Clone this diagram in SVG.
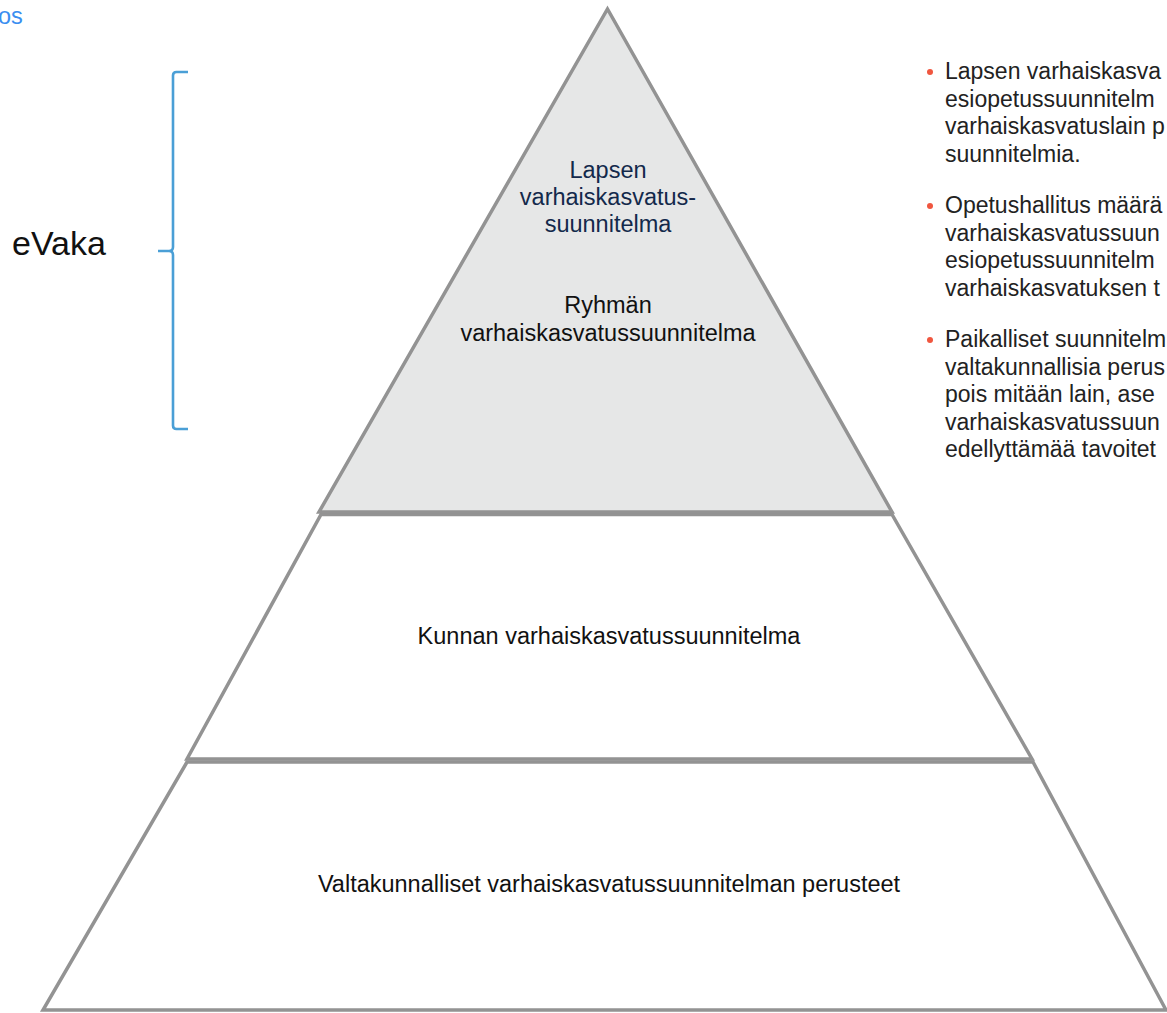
<svg xmlns="http://www.w3.org/2000/svg" width="1167" height="1013" viewBox="0 0 1167 1013">
  <style>
    .layer { stroke: #939393; stroke-width: 3.5; stroke-linejoin: miter; }
    .lbl { font-family: "Liberation Sans", Arial, Helvetica, sans-serif; font-size: 23.5px; fill: #111111; text-anchor: middle; }
    .navy { fill: #13294b; }
    .body { font-family: "Liberation Sans", Arial, Helvetica, sans-serif; font-size: 23px; fill: #222222; }
    .dot { fill: #f0563f; }
  </style>
  <rect width="1167" height="1013" fill="#ffffff"/>

  <!-- cut-off link text at the top-left corner -->
  <text x="-2" y="24" font-family="Liberation Sans, Arial, sans-serif" font-size="23.5" fill="#3a8ef0">os</text>

  <!-- bracket grouping the two upper levels -->
  <g id="evaka">
    <text x="12" y="255" font-family="Liberation Sans, Arial, sans-serif" font-size="34" fill="#111111">eVaka</text>
    <path d="M188,72 L176.5,72 Q173,72 173,75.5 L173,247 Q173,251 169,251 L158,251 M169,251 Q173,251 173,255 L173,425.5 Q173,429 176.5,429 L188,429" fill="none" stroke="#4a9fd6" stroke-width="2.6"/>
  </g>

  <!-- pyramid levels -->
  <g id="level-bottom">
    <polygon class="layer" points="187,762 1033,762 1166,1010 43,1010" fill="#ffffff"/>
    <text class="lbl" x="609" y="892">Valtakunnalliset varhaiskasvatussuunnitelman perusteet</text>
  </g>
  <g id="level-middle">
    <polygon class="layer" points="321,514.5 892,514.5 1032,759 187,759" fill="#ffffff"/>
    <text class="lbl" x="609" y="644">Kunnan varhaiskasvatussuunnitelma</text>
  </g>
  <g id="level-top">
    <polygon class="layer" points="607.5,9 892,512 319,512" fill="#e6e7e7"/>
    <text class="lbl navy" x="608" y="178">Lapsen</text>
    <text class="lbl navy" x="608" y="205">varhaiskasvatus-</text>
    <text class="lbl navy" x="608" y="232">suunnitelma</text>
    <text class="lbl" x="608" y="313">Ryhmän</text>
    <text class="lbl" x="608" y="341">varhaiskasvatussuunnitelma</text>
  </g>

  <!-- bullet notes on the right -->
  <g id="notes">
    <circle class="dot" cx="930" cy="72" r="3"/>
    <text class="body" x="945" y="79.3">Lapsen varhaiskasva</text>
    <text class="body" x="945" y="106.8">esiopetussuunnitelm</text>
    <text class="body" x="945" y="134.3">varhaiskasvatuslain p</text>
    <text class="body" x="945" y="161.8">suunnitelmia.</text>

    <circle class="dot" cx="930" cy="206" r="3"/>
    <text class="body" x="945" y="213.3">Opetushallitus määrä</text>
    <text class="body" x="945" y="240.8">varhaiskasvatussuun</text>
    <text class="body" x="945" y="268.3">esiopetussuunnitelm</text>
    <text class="body" x="945" y="295.8">varhaiskasvatuksen t</text>

    <circle class="dot" cx="930" cy="340" r="3"/>
    <text class="body" x="945" y="347.3">Paikalliset suunnitelm</text>
    <text class="body" x="945" y="374.8">valtakunnallisia perus</text>
    <text class="body" x="945" y="402.3">pois mitään lain, ase</text>
    <text class="body" x="945" y="429.8">varhaiskasvatussuun</text>
    <text class="body" x="945" y="457.3">edellyttämää tavoitet</text>
  </g>
</svg>
